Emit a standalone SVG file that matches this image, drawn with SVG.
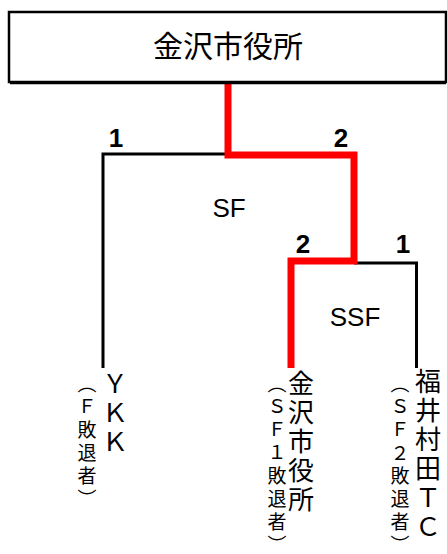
<svg xmlns="http://www.w3.org/2000/svg" width="447" height="554" viewBox="0 0 447 554">
<style>
.jp{font-family:"Noto Sans CJK JP","Liberation Sans",sans-serif;fill:#000}
.num{font-family:"Liberation Sans",Arial,sans-serif;font-weight:bold;font-size:26px;text-anchor:middle;fill:#000}
.lbl{font-family:"Liberation Sans",Arial,sans-serif;font-size:26px;text-anchor:middle;fill:#000}
.big{font-size:26px;letter-spacing:3px;writing-mode:vertical-rl}
.small{font-size:19px;letter-spacing:4px;writing-mode:vertical-rl}
.blk{fill:none;stroke:#000;stroke-width:3}
.red{fill:none;stroke:#ff0000;stroke-width:7}
</style>
<rect width="447" height="554" fill="#fff"/>
<g id="connectors">
<path class="blk" d="M228,154 H103 V368"/>
<path class="blk" d="M354,263 H416.5 V368"/>
<path class="red" d="M228,82 V155 H354 V261 H291 V368"/>
</g>
<g id="root">
<rect x="9" y="12" width="437" height="70" fill="#fff" stroke="#000" stroke-width="2.5"/>
<path d="M10,83.5 H446" stroke="#000" stroke-width="1.5"/>
<text class="jp" x="228" y="57" font-size="30" text-anchor="middle">金沢市役所</text>
</g>
<g id="labels">
<text class="num" x="116" y="147">1</text>
<text class="num" x="341" y="147">2</text>
<text class="num" x="303" y="253">2</text>
<text class="num" x="403" y="253">1</text>
<text class="lbl" x="229" y="217">SF</text>
<text class="lbl" x="355" y="326">SSF</text>
</g>
<g id="ykk">
<text class="jp big" x="115" y="370">ＹＫＫ</text>
<text class="jp small" x="87" y="374">（Ｆ敗退者）</text>
</g>
<g id="kanazawa">
<text class="jp big" x="301" y="370">金沢市役所</text>
<text class="jp small" x="277" y="374">（ＳＦ１敗退者）</text>
</g>
<g id="fukui">
<text class="jp big" x="428" y="368">福井村田ＴＣ</text>
<text class="jp small" x="400" y="374">（ＳＦ２敗退者）</text>
</g>
</svg>
